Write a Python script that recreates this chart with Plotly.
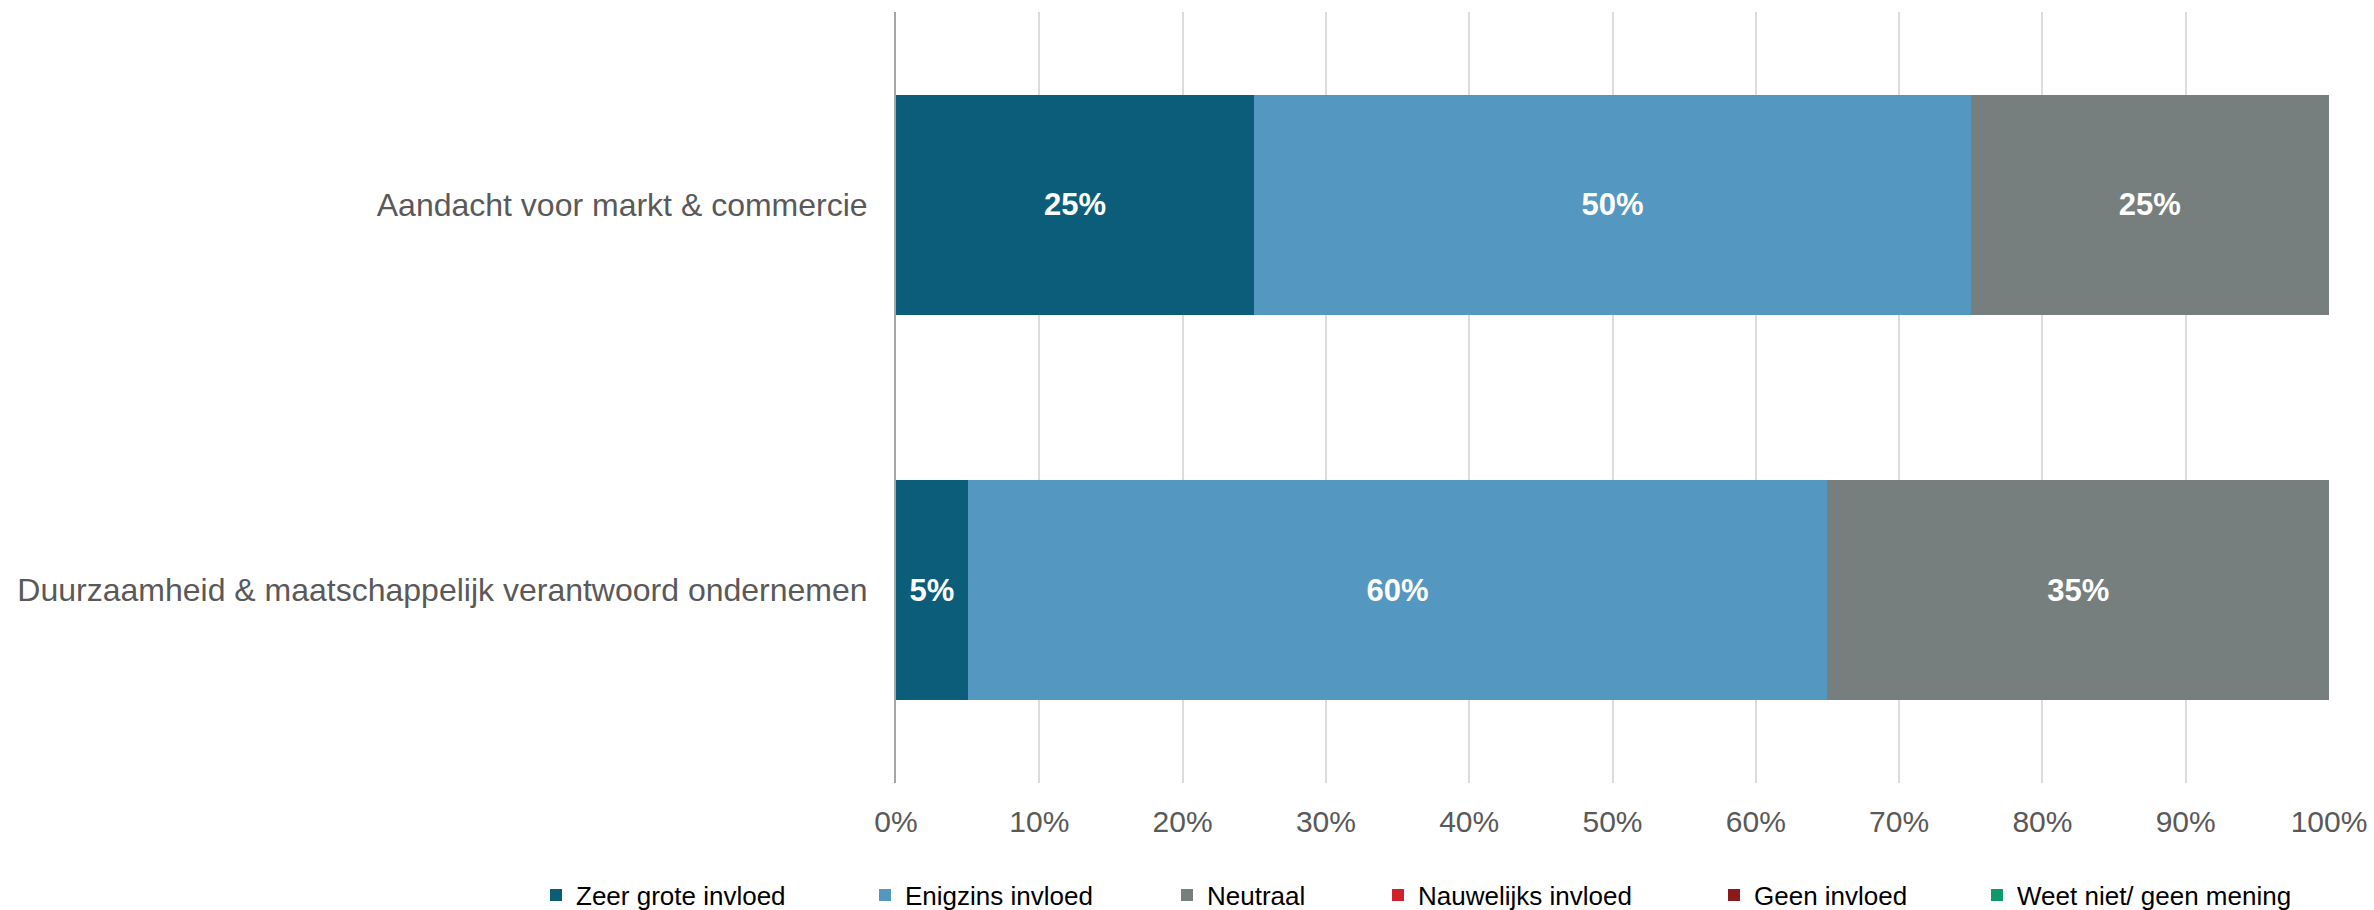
import plotly.graph_objects as go

# Survey items (top to bottom) and answer categories
items = [
    "Aandacht voor markt & commercie",
    "Duurzaamheid & maatschappelijk verantwoord ondernemen",
]
answers = [
    "Zeer grote invloed",
    "Enigzins invloed",
    "Neutraal",
    "Nauwelijks invloed",
    "Geen invloed",
    "Weet niet/ geen mening",
]

# Share of respondents (%) per answer, one value per item
zeer_grote = [25, 5]
enigzins = [50, 60]
neutraal = [25, 35]
nauwelijks = [0, 0]
geen = [0, 0]
weet_niet = [0, 0]

tick_values = [0, 10, 20, 30, 40, 50, 60, 70, 80, 90, 100]
tick_labels = ["0%", "10%", "20%", "30%", "40%", "50%", "60%", "70%", "80%", "90%", "100%"]

series = [zeer_grote, enigzins, neutraal, nauwelijks, geen, weet_niet]
colors = ["#0C5D7A", "#5497C0", "#777E7E", "#D0202A", "#8B1A1A", "#0E9A6E"]

# symbol-centre x position (px) of each legend entry along the bottom row
legend_px = [556, 885, 1187, 1398, 1734, 1997]

W, H = 2374, 910
FONT = "Liberation Sans, Arial, sans-serif"

fig = go.Figure()
for i, (name, vals, col) in enumerate(zip(answers, series, colors)):
    leg = "legend" if i == 0 else f"legend{i + 1}"
    fig.add_trace(go.Bar(
        name=name,
        y=items,
        x=vals,
        orientation="h",
        marker=dict(color=col, line=dict(width=0)),
        text=[f"{v}%" if v > 0 else "" for v in vals],
        textposition="inside",
        insidetextanchor="middle",
        textangle=0,
        textfont=dict(family=FONT, size=31, color="white", weight="bold"),
        legend=leg,
        hoverinfo="skip",
    ))

layout_legends = {}
for i, px in enumerate(legend_px):
    key = "legend" if i == 0 else f"legend{i + 1}"
    layout_legends[key] = dict(
        orientation="h",
        xref="container", yref="container",
        x=(px - 20) / W, xanchor="left",
        y=15 / H, yanchor="middle",
        font=dict(family=FONT, size=26, color="#000000"),
        bgcolor="rgba(0,0,0,0)",
        borderwidth=0,
        itemclick=False, itemdoubleclick=False,
    )

fig.update_layout(
    width=W, height=H,
    margin=dict(l=896, r=45, t=12, b=127, pad=0, autoexpand=False),
    paper_bgcolor="white",
    plot_bgcolor="white",
    barmode="stack",
    bargap=0.43,
    showlegend=True,
    font=dict(family=FONT, color="#595959"),
    **layout_legends,
)

fig.update_xaxes(
    range=[0, 100],
    tickmode="array",
    tickvals=tick_values,
    ticktext=tick_labels,
    showgrid=True,
    gridcolor="#DCDCDC",
    gridwidth=1.5,
    zeroline=False,
    showline=False,
    ticks="",
    ticklabelstandoff=18,
    tickfont=dict(family=FONT, size=30, color="#595959"),
    automargin=False,
    fixedrange=True,
)
fig.update_yaxes(
    categoryorder="array",
    categoryarray=items,
    autorange="reversed",
    showgrid=False,
    zeroline=False,
    showline=True,
    linecolor="#A6A6A6",
    linewidth=2,
    ticks="",
    ticklabelstandoff=20,
    tickfont=dict(family=FONT, size=32, color="#595959"),
    automargin=False,
    fixedrange=True,
)

fig.write_html("out.html", config={"displayModeBar": False})
